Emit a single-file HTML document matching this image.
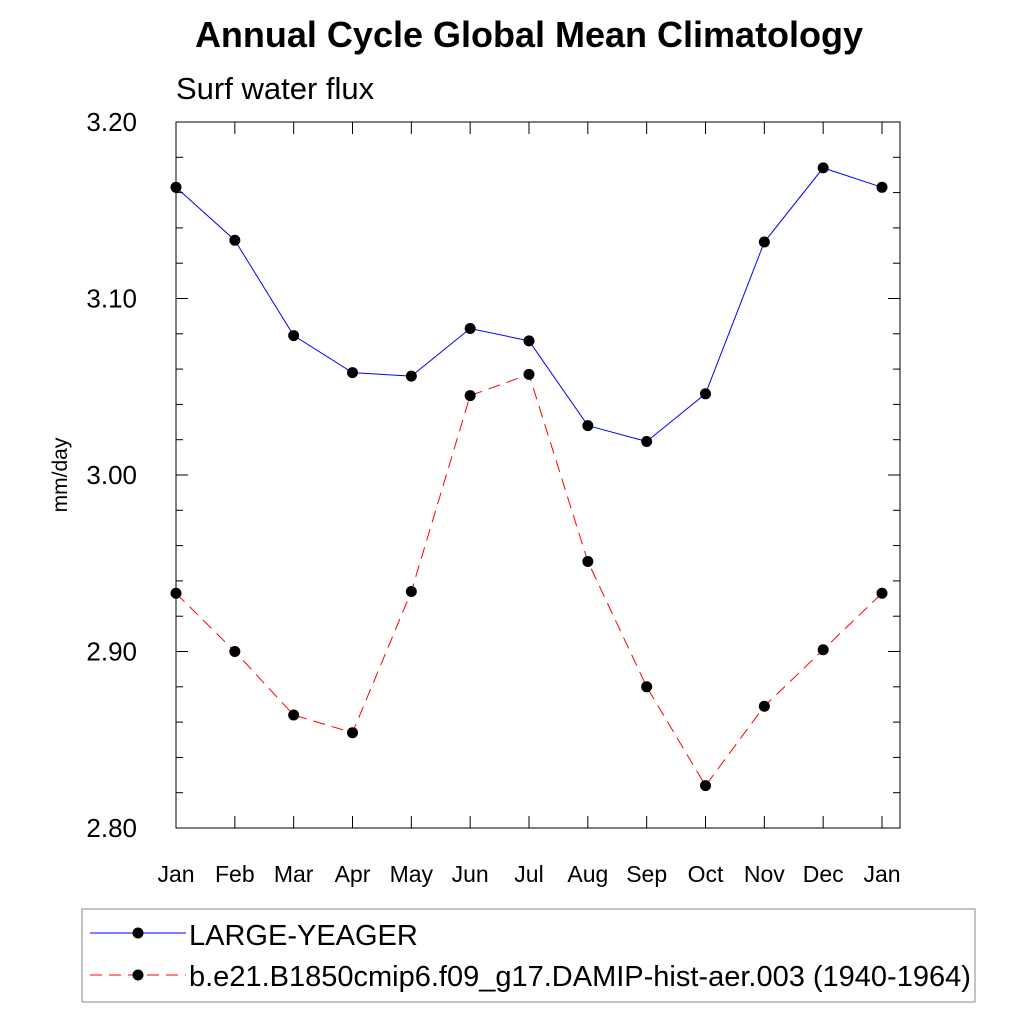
<!DOCTYPE html>
<html><head><meta charset="utf-8"><style>
body{margin:0;background:#fff}
text{font-family:"Liberation Sans",sans-serif}
</style></head><body>
<svg id="chart" width="1024" height="1024" xmlns="http://www.w3.org/2000/svg">
<text x="529" y="47" font-size="36" font-weight="bold" text-anchor="middle">Annual Cycle Global Mean Climatology</text>
<text x="176" y="99" font-size="31">Surf water flux</text>
<text transform="translate(67,475) rotate(-90)" font-size="21" text-anchor="middle">mm/day</text>
<g id="axes"></g>
<g id="series"></g>
<rect x="82" y="909" width="893" height="93" fill="none" stroke="#888" stroke-width="1"/>
<line x1="90" y1="933" x2="186" y2="933" stroke="#0000ff" stroke-width="1"/>
<circle cx="138" cy="933" r="5.5" fill="#000"/>
<text x="189" y="945" font-size="29">LARGE-YEAGER</text>
<line x1="90" y1="975" x2="186" y2="975" stroke="#ff0000" stroke-width="1" stroke-dasharray="12,7"/>
<circle cx="138" cy="975" r="5.5" fill="#000"/>
<text x="189" y="986" font-size="29">b.e21.B1850cmip6.f09_g17.DAMIP-hist-aer.003 (1940-1964)</text>
</svg>
<script>
const months=["Jan","Feb","Mar","Apr","May","Jun","Jul","Aug","Sep","Oct","Nov","Dec","Jan"];
const largeYeager=[3.163,3.133,3.079,3.058,3.056,3.083,3.076,3.028,3.019,3.046,3.132,3.174,3.163];
const damip=[2.933,2.900,2.864,2.854,2.934,3.045,3.057,2.951,2.880,2.824,2.869,2.901,2.933];
const yTicks=[2.80,2.90,3.00,3.10,3.20];
const NS="http://www.w3.org/2000/svg";
const L=176,R=900,T=122,B=828,X0=176,X1=882;
const xs=i=>X0+(X1-X0)*i/(months.length-1);
const ys=v=>B-(v-2.8)/(0.4)*(B-T);
function mk(t,a,p){const e=document.createElementNS(NS,t);for(const k in a)e.setAttribute(k,a[k]);p.appendChild(e);return e;}
const ax=document.getElementById('axes');
const box=mk('rect',{x:L,y:T,width:R-L,height:B-T,fill:'none',stroke:'#000','stroke-width':1},ax);


months.forEach((m,i)=>{const x=xs(i);
mk('line',{x1:x,y1:B,x2:x,y2:B-12,stroke:'#000'},ax);
mk('line',{x1:x,y1:T,x2:x,y2:T+12,stroke:'#000'},ax);
const t=mk('text',{x:x,y:B+54,'font-size':23,'text-anchor':'middle'},ax);t.textContent=m;

});
for(let v=2.8;v<=3.2001;v+=0.02){const y=ys(v);const major=Math.abs(v*10-Math.round(v*10))<1e-6;const len=major?12:7;
mk('line',{x1:L,y1:y,x2:L+len,y2:y,stroke:'#000'},ax);
mk('line',{x1:R,y1:y,x2:R-len,y2:y,stroke:'#000'},ax);}
yTicks.forEach(v=>{const t=mk('text',{x:L-39,y:ys(v)+9,'font-size':26,'text-anchor':'end'},ax);t.textContent=v.toFixed(2);

});
const sg=document.getElementById('series');
function draw(data,color,dash,name){
const pl=mk('polyline',{points:data.map((v,i)=>xs(i)+','+ys(v)).join(' '),fill:'none',stroke:color,'stroke-width':1,'stroke-dasharray':dash},sg);


data.forEach((v,i)=>{const c=mk('circle',{cx:xs(i),cy:ys(v),r:5.5,fill:'#000'},sg);

});}
draw(largeYeager,'#0000ff','none','large-yeager');
draw(damip,'#ff0000','12,7','damip');
</script>
</body></html>
